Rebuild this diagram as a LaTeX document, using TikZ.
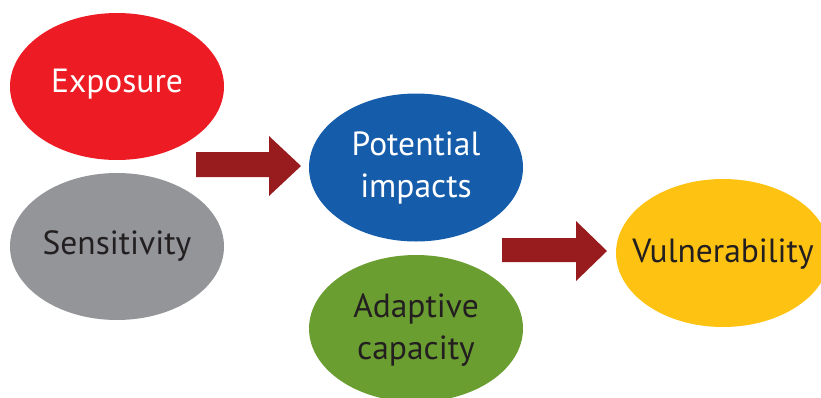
\documentclass[tikz,border=0pt]{standalone}
\usepackage{fontspec}
\setmainfont{PT Sans}
\definecolor{cred}{HTML}{ED1C24}
\definecolor{cgray}{HTML}{939598}
\definecolor{cblue}{HTML}{155DAA}
\definecolor{cgreen}{HTML}{6B9E31}
\definecolor{cyellow}{HTML}{FDC212}
\definecolor{carrow}{HTML}{981B1E}
\definecolor{ctext}{HTML}{231F20}
\begin{document}
\begin{tikzpicture}[x=1pt,y=-1pt,
  lbl/.style={font=\fontsize{33.5}{42}\selectfont,align=center,inner sep=0pt},
  blockarrow/.style={fill=carrow,draw=none}]
\useasboundingbox (0,0) rectangle (821,397);
\clip (0,0) rectangle (821,397);
\fill[cred] (117,86.5) ellipse [x radius=107, y radius=73.5];
\fill[cgray] (117,246.5) ellipse [x radius=107, y radius=73.5];
\fill[cblue] (416,167.5) ellipse [x radius=107, y radius=74];
\fill[cgreen] (416,328.5) ellipse [x radius=107, y radius=73.5];
\fill[cyellow] (723,253) ellipse [x radius=107, y radius=74];
\node[lbl,text=white] (exp) at (117,84) {Exposure};
\node[lbl,text=ctext] (sen) at (117,246) {Sensitivity};
\node[lbl,text=white] (pot) at (416,168) {Potential\\impacts};
\node[lbl,text=ctext] (ada) at (416,330) {Adaptive\\capacity};
\node[lbl,text=ctext] (vul) at (723,254) {Vulnerability};
\fill[blockarrow] (196,152) -- (269,152) -- (269,136) -- (301,166) -- (269,196) -- (269,177) -- (196,177) -- cycle;
\fill[blockarrow] (502,238) -- (576,238) -- (576,221) -- (607,251) -- (576,281) -- (576,262) -- (502,262) -- cycle;
\end{tikzpicture}
\end{document}
